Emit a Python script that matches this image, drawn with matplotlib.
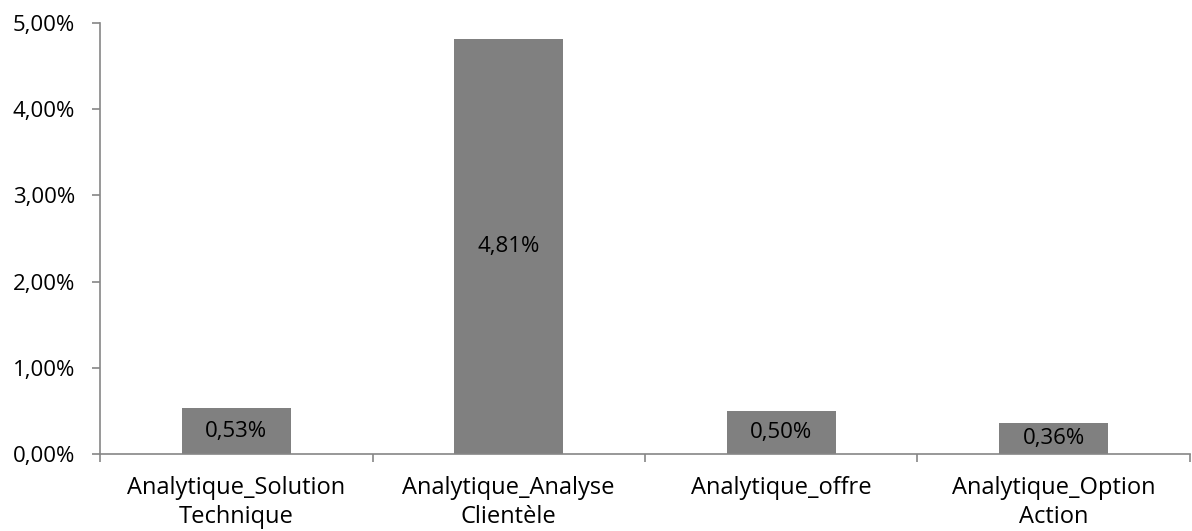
import matplotlib
matplotlib.use("Agg")
import matplotlib.pyplot as plt
from matplotlib.ticker import FuncFormatter, FixedLocator

############### DATA ###################

categories = ["Analytique_Solution\nTechnique", "Analytique_Analyse\nClientèle",
              "Analytique_offre", "Analytique_Option\nAction"]
values = [0.53, 4.81, 0.50, 0.36]   # in %
y_ticks = [0, 1, 2, 3, 4, 5]

############### STYLE ###################

plt.rcParams['font.family'] = ['Open Sans', 'DejaVu Sans']
axis_col = "#868686"
bar_col = "#808080"

############### PLOT ###################

fig = plt.figure(figsize=(11.92, 5.31), dpi=100)
ax = fig.add_axes([0.0839, 0.145, 0.9144, 0.8117])

x = list(range(len(categories)))
bars = ax.bar(x, values, width=0.4, color=bar_col, zorder=2)

# labels centred in each bar
for xi, v in zip(x, values):
    ax.text(xi, v / 2, ("%.2f%%" % v).replace(".", ","), ha="center", va="center",
            fontsize=16, color="black", zorder=3)

ax.set_xlim(-0.5, len(categories) - 0.5)
ax.set_ylim(0, 5)
ax.set_yticks(y_ticks)
ax.yaxis.set_major_formatter(FuncFormatter(lambda v, p: ("%.2f%%" % v).replace(".", ",")))

# category labels without tick marks, separators as ticks
ax.xaxis.set_major_locator(FixedLocator([i - 0.5 for i in range(len(categories) + 1)]))
ax.xaxis.set_major_formatter(FuncFormatter(lambda v, p: ""))
ax.xaxis.set_minor_locator(FixedLocator(x))
ax.set_xticklabels(categories, minor=True, linespacing=1.28)
ax.tick_params(axis="x", which="minor", length=0, pad=16, labelsize=17)
ax.tick_params(axis="x", which="major", length=6, color=axis_col, width=1.2)
ax.tick_params(axis="y", length=6, color=axis_col, width=1.2, labelsize=16, pad=12)

for s in ["top", "right"]:
    ax.spines[s].set_visible(False)
for s in ["left", "bottom"]:
    ax.spines[s].set_color(axis_col)
    ax.spines[s].set_linewidth(1.2)

plt.savefig("out.png", dpi=100)
